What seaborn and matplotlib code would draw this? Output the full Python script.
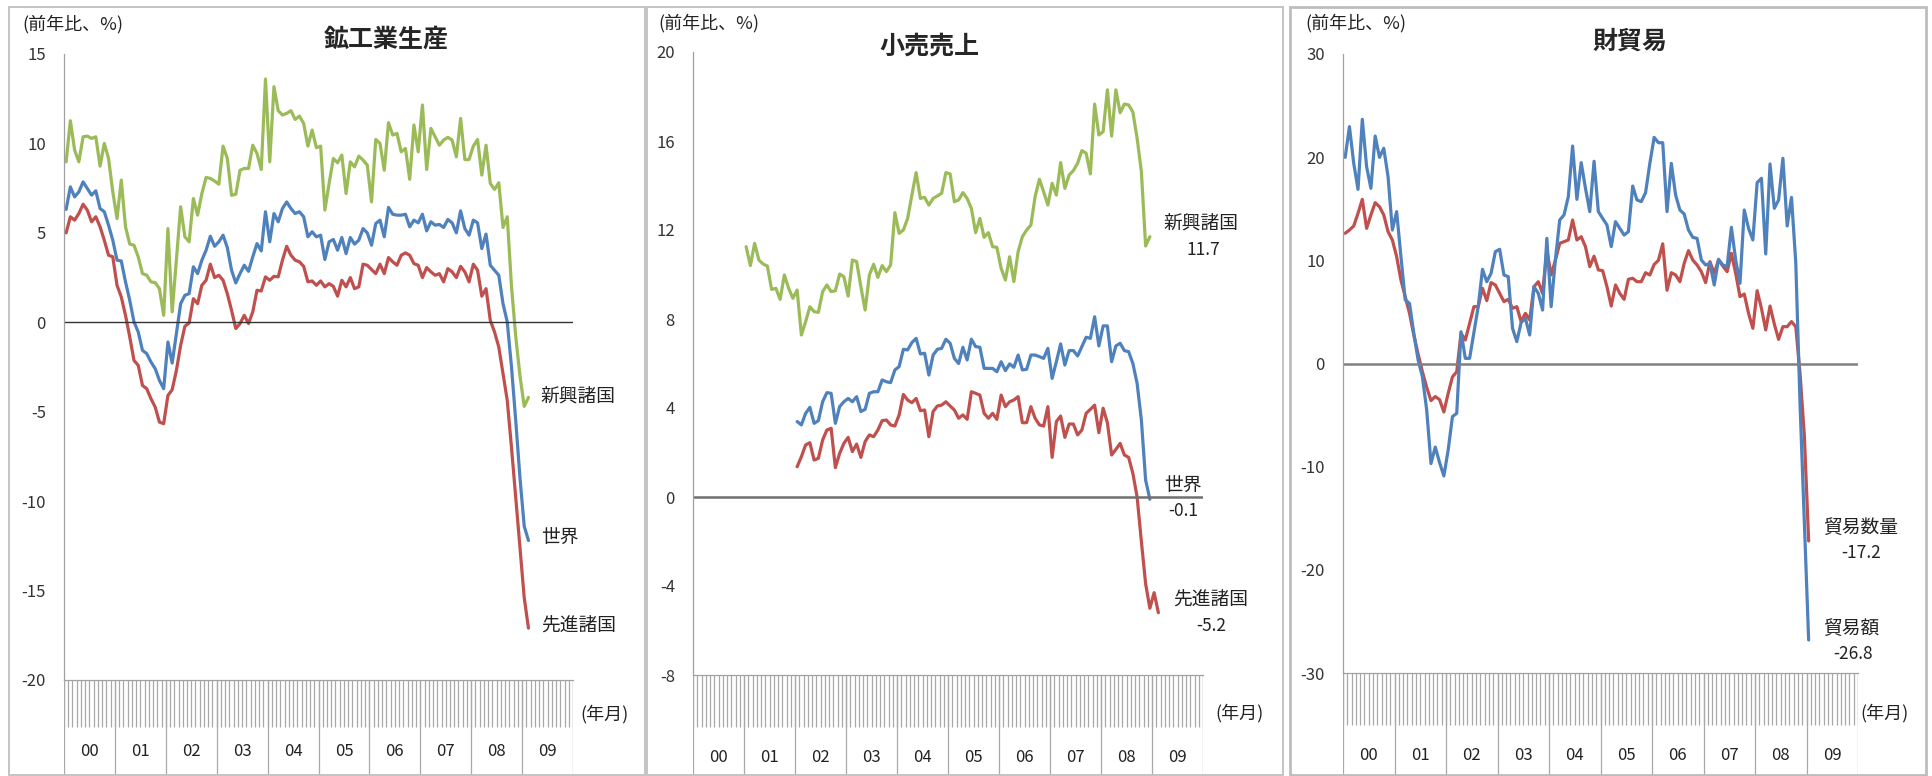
import numpy as np
import pandas as pd
import matplotlib
matplotlib.use("Agg")
import matplotlib.pyplot as plt
import seaborn as sns
from matplotlib.patches import Rectangle

# ---------------- data ----------------
year_labels = ["00", "01", "02", "03", "04", "05", "06", "07", "08", "09"]

# Panel 1: 鉱工業生産 (start 2000-01)
ip_start = "2000-01"
ip_emerging = [8.97, 11.27, 9.63, 8.97, 10.37, 10.41, 10.28, 10.37, 8.73, 10.0,
               9.16, 7.29, 5.8, 7.95, 5.34, 4.37, 4.31, 3.66, 2.72, 2.63,
               2.26, 2.22, 1.88, 0.39, 5.24, 0.58, 3.5, 6.46, 4.78, 4.5,
               6.92, 5.99, 7.2, 8.1, 8.04, 7.9, 7.72, 9.85, 9.16, 7.1,
               7.16, 8.5, 8.6, 8.6, 9.9, 9.44, 8.54, 13.6, 8.97, 13.17,
               11.83, 11.59, 11.68, 11.83, 11.34, 11.53, 11.12, 9.85, 10.75, 9.76,
               9.85, 6.27, 7.76, 9.16, 8.92, 9.35, 7.2, 8.97, 8.69, 9.29,
               9.07, 8.79, 6.73, 10.22, 10.0, 8.5, 11.16, 10.47, 10.56, 9.53,
               9.72, 7.99, 11.03, 9.53, 12.15, 8.54, 10.84, 10.37, 9.9, 10.19,
               10.34, 10.19, 9.25, 11.4, 9.1, 9.1, 9.85, 10.22, 8.23, 9.9,
               7.76, 7.43, 7.8, 5.3, 5.9, 2.0, -0.8, -3.0, -4.7, -4.2]
ip_world = [6.31, 7.57, 7.01, 7.29, 7.85, 7.48, 7.11, 7.35, 6.36, 6.18,
            5.43, 4.59, 3.47, 3.43, 2.26, 1.23, 0.02, -0.54, -1.57, -1.75,
            -2.22, -2.59, -3.25, -3.71, -1.1, -2.28, -0.63, 1.04, 1.51, 1.6,
            3.1, 2.72, 3.47, 4.03, 4.81, 4.25, 4.5, 4.87, 4.18, 2.91,
            2.2, 2.72, 3.19, 2.85, 3.66, 4.4, 3.99, 6.18, 4.5, 6.08,
            5.62, 6.36, 6.73, 6.36, 6.08, 6.18, 5.9, 4.78, 5.06, 4.78,
            4.87, 3.51, 4.5, 4.63, 4.03, 4.74, 3.84, 4.74, 4.37, 4.59,
            5.24, 5.0, 4.31, 5.52, 5.71, 4.78, 6.42, 6.04, 5.99, 5.99,
            6.04, 5.34, 5.71, 5.56, 6.04, 5.11, 5.62, 5.43, 5.47, 5.3,
            5.75, 5.56, 5.0, 6.23, 5.24, 4.87, 5.71, 5.56, 4.12, 4.93,
            3.19, 2.91, 2.63, 1.04, 0.02, -2.5, -5.5, -8.7, -11.4, -12.2]
ip_advanced = [5.0, 5.9, 5.71, 6.08, 6.6, 6.27, 5.62, 5.9, 5.34, 4.59,
               3.75, 3.66, 2.07, 1.42, 0.39, -0.82, -2.13, -2.41, -3.53, -3.71,
               -4.27, -4.74, -5.58, -5.67, -4.09, -3.77, -2.69, -1.29, -0.22, -0.04,
               1.32, 1.04, 2.07, 2.35, 3.25, 2.5, 2.63, 2.35, 1.6, 0.67,
               -0.35, -0.07, 0.39, -0.07, 0.58, 1.79, 1.75, 2.54, 2.35, 2.57,
               2.54, 3.47, 4.25, 3.75, 3.47, 3.38, 3.13, 2.26, 2.31, 2.07,
               2.31, 1.98, 2.16, 2.01, 1.46, 2.35, 1.98, 2.5, 1.88, 1.98,
               3.25, 3.19, 2.95, 2.72, 3.25, 2.72, 3.62, 3.38, 3.19, 3.75,
               3.88, 3.75, 3.28, 3.19, 2.5, 3.06, 2.82, 2.63, 2.72, 2.26,
               3.0, 2.82, 2.5, 3.13, 2.82, 2.26, 3.25, 2.91, 1.46, 1.88,
               0.11, -0.54, -1.38, -2.87, -4.37, -7.0, -9.8, -12.6, -15.4, -17.1]

# Panel 2: 小売売上
rs_emerging_start = "2001-01"
rs_emerging = [11.25, 10.4, 11.4, 10.65, 10.47, 10.38, 9.33, 9.38, 8.88, 9.98,
               9.38, 8.93, 9.3, 7.28, 7.88, 8.55, 8.33, 8.3, 9.23, 9.53,
               9.23, 9.27, 10.02, 9.9, 9.03, 10.65, 10.58, 9.45, 8.4, 9.98,
               10.46, 9.87, 10.4, 10.13, 10.43, 12.78, 11.85, 12.0, 12.52, 13.57,
               14.58, 13.42, 13.47, 13.12, 13.42, 13.53, 13.65, 14.58, 14.52, 13.27,
               13.35, 13.68, 13.42, 12.97, 11.88, 12.52, 11.67, 11.88, 11.25, 11.22,
               10.28, 9.75, 10.8, 9.68, 11.03, 11.7, 12.0, 12.22, 13.5, 14.28,
               13.72, 13.12, 14.1, 13.57, 15.03, 13.87, 14.47, 14.67, 15.0, 15.57,
               15.45, 14.52, 17.66, 16.27, 16.42, 18.3, 16.22, 18.3, 17.27, 17.66,
               17.62, 17.3, 16.12, 14.62, 11.28, 11.7]
rs_world_start = "2002-01"
rs_world = [3.39, 3.24, 3.76, 4.03, 3.31, 3.43, 4.28, 4.69, 4.66, 3.31,
            4.06, 4.28, 4.43, 4.28, 4.51, 3.84, 3.94, 4.66, 4.73, 4.73,
            5.26, 5.18, 5.14, 5.71, 5.86, 6.64, 6.61, 6.94, 7.13, 6.43,
            6.46, 5.48, 6.38, 6.64, 6.68, 7.09, 6.91,
            6.23, 6.0, 6.73, 6.16, 7.09, 6.76, 6.73, 5.78, 5.78, 5.78,
            5.63, 6.08, 5.68, 5.98, 5.83, 6.38, 5.71, 5.74, 6.38, 6.38,
            6.31, 6.23, 6.68, 5.33, 6.08, 6.88, 5.93, 6.58, 6.58, 6.34,
            6.76, 7.18, 7.13, 8.1, 6.79, 7.69, 7.69, 6.08, 6.79, 6.91,
            6.58, 6.53, 6.0, 5.1, 3.46, 0.76, -0.1]
rs_advanced_start = "2002-01"
rs_advanced = [1.36, 1.81, 2.34, 2.44, 1.66, 1.74, 2.56, 3.01, 3.09, 1.32,
               1.96, 2.41, 2.68, 2.04, 2.38, 1.78, 2.49, 2.79, 2.71, 3.01,
               3.43, 3.46, 3.24, 3.19, 3.69, 4.61, 4.36, 4.24, 4.43, 3.88,
               3.91, 2.71, 3.84, 4.09, 4.13, 4.28, 4.09,
               3.91, 3.54, 3.69, 3.49, 4.73, 4.66, 4.58, 3.76, 3.54, 3.76,
               3.49, 4.58, 4.06, 4.28, 4.36, 4.51, 3.34, 3.34, 4.06, 3.54,
               3.24, 3.19, 4.06, 1.78, 3.39, 3.64, 2.68, 3.28, 3.28, 2.79,
               3.01, 3.76, 3.94, 4.13, 2.89, 3.99, 3.34, 1.89, 2.14, 2.41,
               1.89, 1.78, 1.06, 0.0, -2.0, -3.9, -5.0, -4.3, -5.2]

# Panel 3: 財貿易 (start 2000-01)
tr_start = "2000-01"
tr_value = [19.98, 22.96, 19.4, 16.88, 23.67, 19.08, 16.98, 22.05, 19.98, 20.86,
            18.11, 12.94, 14.72, 10.36, 6.16, 5.83, 2.92, 0.34, -1.28, -4.5,
            -9.7, -8.1, -9.6, -10.9, -8.4, -5.15, -4.83, 3.08, 0.5, 0.5,
            3.0, 5.5, 9.13, 7.93, 8.74, 10.84, 11.07, 8.58, 8.42, 3.41,
            2.12, 3.96, 4.38, 2.76, 7.45, 6.8, 5.18, 12.13, 5.51, 10.1,
            13.91, 14.4, 16.17, 21.08, 15.91, 19.47, 16.98, 14.72, 19.6, 14.72,
            14.07, 13.43, 11.33, 13.75, 13.1, 12.45, 12.78, 17.2, 15.85, 15.69,
            16.56, 19.4, 21.92, 21.4, 21.4, 14.72, 19.4, 16.33, 14.88, 14.49,
            12.94, 12.23, 12.13, 10.03, 9.55, 9.71, 7.61, 10.1, 9.55, 9.39,
            13.2, 10.03, 7.77, 14.88, 13.1, 11.97, 17.53, 17.95, 10.62, 19.34,
            15.04, 15.85, 19.89, 13.33, 16.1, 9.8, -4.0, -15.4, -26.8]
tr_volume = [12.62, 12.94, 13.33, 14.56, 15.91, 13.1, 14.4, 15.59, 15.2, 14.4,
             12.78, 11.97, 10.36, 8.09, 6.48, 4.86, 2.76, 0.92, -0.8, -2.3,
             -3.6, -3.2, -3.5, -4.7, -2.9, -1.3, -0.8, 2.93, 2.28, 3.89,
             5.51, 5.51, 7.29, 6.09, 7.84, 7.61, 6.8, 6.0, 6.22, 5.35,
             5.51, 4.06, 4.86, 4.22, 7.45, 7.93, 6.8, 11.0, 8.58, 10.03,
             11.65, 11.81, 11.97, 13.91, 11.97, 12.29, 11.32, 9.39, 10.4, 9.07,
             9.0, 7.45, 5.57, 7.61, 6.8, 6.22, 8.16, 8.26, 7.93, 7.93,
             8.8, 8.58, 9.6, 10.0, 11.6, 7.1, 8.8, 8.58, 7.93, 9.71,
             10.94, 10.03, 9.55, 8.9, 7.84, 9.87, 8.74, 10.03, 9.45, 8.9,
             10.68, 8.74, 6.48, 6.74, 4.86, 3.41, 7.06, 5.35, 3.25, 5.57,
             3.83, 2.34, 3.57, 3.57, 4.06, 3.57, -1.0, -7.0, -17.2]

# ---------------- styling ----------------
GREEN = "#9BBB59"
BLUE = "#4F81BD"
RED = "#C0504D"
W, H = 1932, 776
N_MONTHS = 120

sns.set_style("white")
plt.rcParams["font.family"] = ["Noto Sans CJK JP", "DejaVu Sans"]
plt.rcParams["axes.unicode_minus"] = False

fig = plt.figure(figsize=(W / 100, H / 100), dpi=100)


def px_axes(x0, y0, x1, y1):
    return fig.add_axes([x0 / W, 1 - y1 / H, (x1 - x0) / W, (y1 - y0) / H])


def month_offset(s):
    y, m = s.split("-")
    return (int(y) - 2000) * 12 + int(m) - 1


def series_df(name, start, vals):
    off = month_offset(start)
    return pd.DataFrame({"x": off + np.arange(len(vals)) + 0.5,
                         "v": vals, "s": name})


def frame(x0, y0, x1, y1, color="#c4c4c4", lw=1.4):
    fig.patches.append(Rectangle((x0 / W, 1 - y1 / H), (x1 - x0) / W, (y1 - y0) / H,
                                 transform=fig.transFigure, fill=False,
                                 ec=color, lw=lw))


def make_panel(box, cat_bottom, tick_end_px, ylim, ystep, series, zero_kw,
               year_y_px, nengetsu_px):
    x0, y0, x1, y1 = box
    ax = px_axes(x0, y0, x1, y1)
    df = pd.concat([series_df(n, st, v) for n, st, v, c in series])
    pal = {n: c for n, st, v, c in series}
    sns.lineplot(data=df, x="x", y="v", hue="s", palette=pal, estimator=None,
                 sort=False, legend=False, lw=2.3, ax=ax)
    ax.axhline(0, **zero_kw)
    ax.set_xlim(0, N_MONTHS)
    ax.set_ylim(*ylim)
    ax.set_yticks(np.arange(ylim[0], ylim[1] + 0.1, ystep))
    ax.set_yticklabels([f"{int(t)}" for t in ax.get_yticks()])
    ax.set_xticks([])
    ax.set_xlabel("")
    ax.set_ylabel("")
    for sp in ("top", "right"):
        ax.spines[sp].set_visible(False)
    for sp in ("left", "bottom"):
        ax.spines[sp].set_color("#a0a0a0")
        ax.spines[sp].set_linewidth(0.9)
    ax.tick_params(axis="y", direction="out", length=4.5, width=0.9,
                   color="#a0a0a0", pad=8.5, labelsize=12, labelcolor="#333333")
    ax.patch.set_alpha(0)

    # category (month / year) axis
    cax = px_axes(x0, y1, x1, cat_bottom)
    cax.set_xlim(0, N_MONTHS)
    cax.set_ylim(0, 1)
    cax.axis("off")
    frac = 1 - (tick_end_px - y1) / (cat_bottom - y1)
    cax.vlines(np.arange(0, N_MONTHS + 1), frac, 1, color="#a8a8a8", lw=0.9)
    cax.vlines(np.arange(0, N_MONTHS + 1, 12), 0, 1, color="#a8a8a8", lw=0.9)
    yfrac = 1 - (year_y_px - y1) / (cat_bottom - y1)
    for k, lab in enumerate(year_labels):
        cax.text(12 * k + 6, yfrac, lab, ha="center", va="center",
                 fontsize=12, color="#222222")
    nx, ny = nengetsu_px
    cax.text((nx - x0) / (x1 - x0) * N_MONTHS, 1 - (ny - y1) / (cat_bottom - y1),
             "(年月)", ha="left", va="center", fontsize=13, color="#222222",
             clip_on=False)
    return ax


def ptext(x, y, s, **kw):
    fig.text(x / W, 1 - y / H, s, **kw)


# frames
frame(9, 7, 645, 775)
frame(647, 7, 1283, 775)
frame(1290, 7, 1926, 775, color="#bdbdbd", lw=2.0)

# ---------- Panel 1 ----------
ax1 = make_panel((64, 54, 573, 680), 775, 727, (-20, 15), 5,
                 [("新興諸国", ip_start, ip_emerging, GREEN),
                  ("世界", ip_start, ip_world, BLUE),
                  ("先進諸国", ip_start, ip_advanced, RED)],
                 dict(color="#333333", lw=1.0), 752, (580, 714))
lab_kw = dict(ha="left", va="center", fontsize=13.5, color="#222222", clip_on=False)
ax1.text(112.4, -4.2, "新興諸国", **lab_kw)
ax1.text(112.4, -12.0, "世界", **lab_kw)
ax1.text(112.4, -17.0, "先進諸国", **lab_kw)
ptext(22, 24, "(前年比、%)", ha="left", va="center", fontsize=13, color="#222222")
ptext(386, 40, "鉱工業生産", ha="center", va="center", fontsize=18, weight="bold")

# ---------- Panel 2 ----------
ax2 = make_panel((693, 52, 1203, 675), 775, 727, (-8, 20), 4,
                 [("新興諸国", rs_emerging_start, rs_emerging, GREEN),
                  ("世界", rs_world_start, rs_world, BLUE),
                  ("先進諸国", rs_advanced_start, rs_advanced, RED)],
                 dict(color="#707070", lw=1.8), 758, (1215, 713))
num_kw = dict(ha="center", va="center", fontsize=12.5, color="#222222", clip_on=False)
ax2.text(110.8, 12.27, "新興諸国", **lab_kw)
ax2.text(120.0, 11.1, f"{rs_emerging[-1]:.1f}", **num_kw)
ax2.text(110.8, 0.54, "世界", **lab_kw)
ax2.text(115.3, -0.63, f"{rs_world[-1]:.1f}", **num_kw)
ax2.text(112.9, -4.63, "先進諸国", **lab_kw)
ax2.text(121.9, -5.8, f"{rs_advanced[-1]:.1f}", **num_kw)
ptext(658, 23, "(前年比、%)", ha="left", va="center", fontsize=13, color="#222222")
ptext(929, 47, "小売売上", ha="center", va="center", fontsize=18, weight="bold")

# ---------- Panel 3 ----------
ax3 = make_panel((1343, 54, 1858, 673), 775, 725, (-30, 30), 10,
                 [("貿易数量", tr_start, tr_volume, RED),
                  ("貿易額", tr_start, tr_value, BLUE)],
                 dict(color="#808080", lw=1.8), 756, (1860, 713))
ax3.text(111.8, -15.94, "貿易数量", **lab_kw)
ax3.text(120.7, -18.37, f"{tr_volume[-1]:.1f}", **num_kw)
ax3.text(111.8, -25.64, "貿易額", **lab_kw)
ax3.text(118.8, -28.16, f"{tr_value[-1]:.1f}", **num_kw)
ptext(1305, 23, "(前年比、%)", ha="left", va="center", fontsize=13, color="#222222")
ptext(1630, 42, "財貿易", ha="center", va="center", fontsize=18, weight="bold")

fig.savefig("out.png", dpi=100, facecolor="white")
